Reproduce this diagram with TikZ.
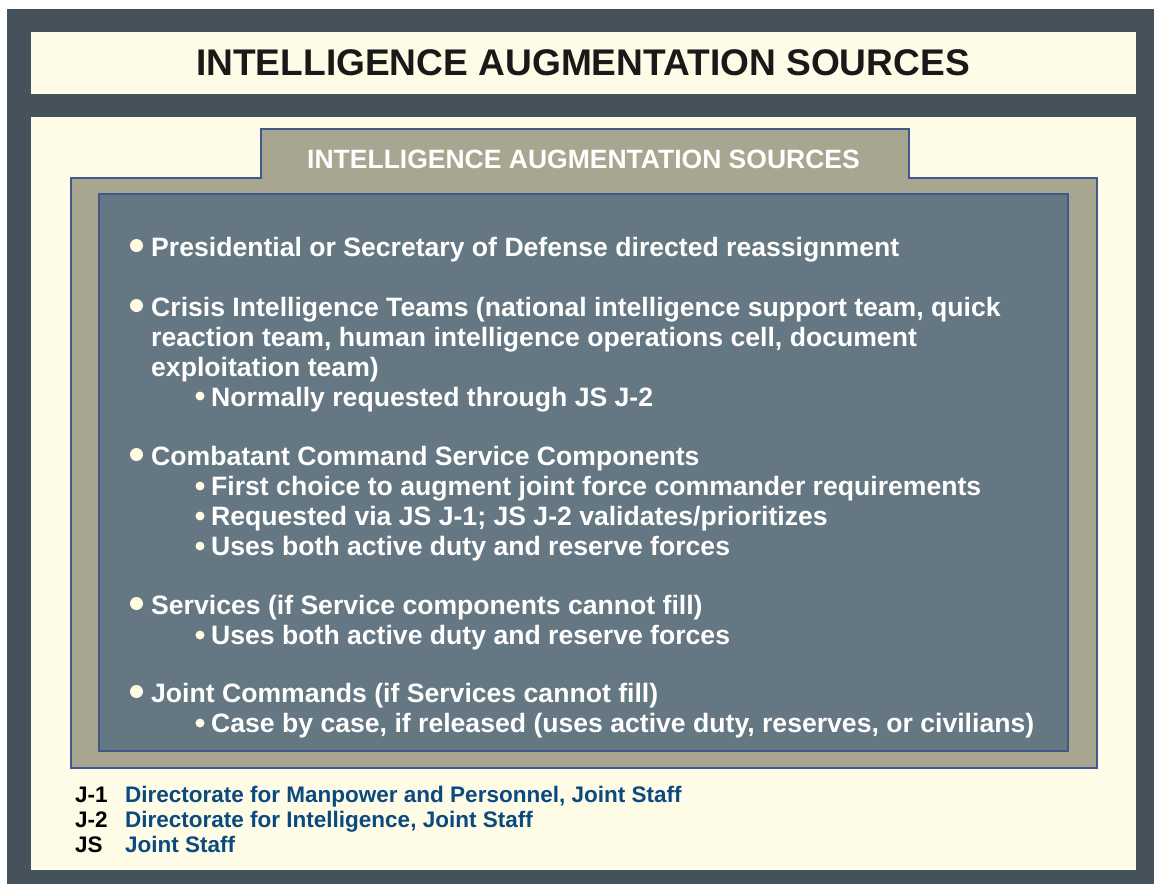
\documentclass[tikz,border=0pt]{standalone}
\usepackage{fontspec}
\setmainfont{Liberation Sans}
\definecolor{frame}{HTML}{45525C}
\definecolor{cream}{HTML}{FEFCE6}
\definecolor{tan}{HTML}{A8A690}
\definecolor{slate}{HTML}{647782}
\definecolor{edge}{HTML}{41598A}
\definecolor{dot}{HTML}{FFFBE0}
\definecolor{defblue}{HTML}{0B4A80}
\tikzset{
  item/.style={anchor=base west, inner sep=0pt, text=white, font=\fontsize{26.6}{30}\selectfont\bfseries},
  bigdot/.style={fill=dot, draw=none},
  abbr/.style={anchor=base west, inner sep=0pt, text=black, font=\fontsize{22.5}{25}\selectfont\bfseries},
  defn/.style={anchor=base west, inner sep=0pt, text=defblue, font=\fontsize{22.5}{25}\selectfont\bfseries},
}
\begin{document}
\begin{tikzpicture}[x=1pt,y=-1pt]
\useasboundingbox (0,0) rectangle (1154,884);
\fill[white] (0,0) rectangle (1154,884);
\fill[frame] (7,9) rectangle (1154,884);
\fill[cream] (31,32) rectangle (1136,94);
\fill[cream] (31,117) rectangle (1136,870);
\filldraw[fill=tan, draw=edge, line width=1.5pt] (71,178) -- (261,178) -- (261,129) -- (909,129) -- (909,178) -- (1097,178) -- (1097,768) -- (71,768) -- cycle;
\filldraw[fill=slate, draw=edge, line width=1.5pt] (99,194) rectangle (1068,751);
\node[anchor=base west, inner sep=0pt, text=black!90, font=\fontsize{37.1}{40}\selectfont\bfseries] (title) at (196,75) {INTELLIGENCE AUGMENTATION SOURCES};
\node[anchor=base west, inner sep=0pt, text=white, font=\fontsize{26.5}{30}\selectfont\bfseries] (tab) at (307,168) {INTELLIGENCE AUGMENTATION SOURCES};
% bullets
\foreach \y in {247,307,456,605,693} \fill[bigdot] (136.5,\y-1.5) circle (6.5);
\foreach \y in {396,486,516,546,635,723} \fill[bigdot] (200,\y) circle (4.5);
\node[item] (l1) at (151,256) {Presidential or Secretary of Defense directed reassignment};
\node[item] (l2) at (151,316) {Crisis Intelligence Teams (national intelligence support team, quick};
\node[item] (l3) at (151,346) {reaction team, human intelligence operations cell, document};
\node[item] (l4) at (151,376) {exploitation team)};
\node[item] (l5) at (211,406) {Normally requested through JS J-2};
\node[item] (l6) at (151,465) {Combatant Command Service Components};
\node[item] (l7) at (211,495) {First choice to augment joint force commander requirements};
\node[item] (l8) at (211,525) {Requested via JS J-1; JS J-2 validates/prioritizes};
\node[item] (l9) at (211,555) {Uses both active duty and reserve forces};
\node[item] (l10) at (151,614) {Services (if Service components cannot fill)};
\node[item] (l11) at (211,644) {Uses both active duty and reserve forces};
\node[item] (l12) at (151,702) {Joint Commands (if Services cannot fill)};
\node[item] (l13) at (211,732) {Case by case, if released (uses active duty, reserves, or civilians)};
% footer
\node[abbr] (a1) at (75,802) {J-1};
\node[defn] (d1) at (125,802) {Directorate for Manpower and Personnel, Joint Staff};
\node[abbr] (a2) at (75,827) {J-2};
\node[defn] (d2) at (125,827) {Directorate for Intelligence, Joint Staff};
\node[abbr] (a3) at (75,852) {JS};
\node[defn] (d3) at (125,852) {Joint Staff};
\end{tikzpicture}
\end{document}
